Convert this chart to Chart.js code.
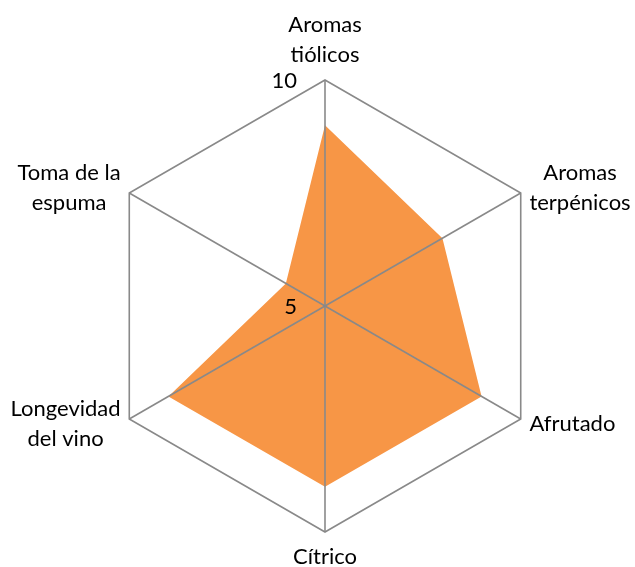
<!DOCTYPE html>
<html>
<head>
<meta charset="utf-8">
<script src="https://cdn.jsdelivr.net/npm/chart.js@4/dist/chart.umd.min.js"></script>
<style>
    html, body { margin: 0; padding: 0; background: #fff; }
    #wrap { width: 635px; height: 567px; }
</style>
</head>
<body>
<div id="wrap"><canvas id="radarChart"></canvas></div>
<script>
const categories = [
    ['Aromas', 'tiólicos'],
    ['Aromas', 'terpénicos'],
    ['Afrutado'],
    ['Cítrico'],
    ['Longevidad', 'del vino'],
    ['Toma de la', 'espuma']
];
const scores = [9, 8, 9, 9, 9, 6];
const tickValues = [5, 10];

const FONT = '22px Lato';
const LINE_H = 30;

/* tick labels sit left of the vertical axis, like the original */
const sideTicks = {
    id: 'sideTicks',
    afterDraw(chart) {
        const r = chart.scales.r;
        const ctx = chart.ctx;
        ctx.save();
        ctx.font = FONT;
        ctx.fillStyle = '#000';
        ctx.textAlign = 'right';
        ctx.textBaseline = 'middle';
        tickValues.forEach(v => {
            const d = r.getDistanceFromCenterForValue(v);
            ctx.fillText(String(v), r.xCenter - 28, r.yCenter - d + 1);
        });
        ctx.restore();
    }
};

/* category labels: centred lines, block placed just outside each vertex */
const outerLabels = {
    id: 'outerLabels',
    afterDraw(chart) {
        const r = chart.scales.r;
        const ctx = chart.ctx;
        ctx.save();
        ctx.font = FONT;
        ctx.fillStyle = '#000';
        ctx.textAlign = 'center';
        ctx.textBaseline = 'middle';
        categories.forEach((lines, i) => {
            const p = r.getPointPosition(i, r.drawingArea + 10);
            const w = Math.max(...lines.map(t => ctx.measureText(t).width));
            const h = lines.length * LINE_H;
            const dx = p.x - r.xCenter;
            let cx = p.x, top = p.y - h / 2;
            if (Math.abs(dx) < 1) {
                top = p.y < r.yCenter ? p.y - h : p.y;
            } else if (dx > 0) {
                cx = p.x + w / 2;
            } else {
                cx = p.x - w / 2;
            }
            lines.forEach((t, k) => ctx.fillText(t, cx, top + LINE_H * (k + 0.5)));
        });
        ctx.restore();
    }
};

new Chart(document.getElementById('radarChart'), {
    type: 'radar',
    data: {
        labels: categories.map(c => c.join(' ')),
        datasets: [{
            data: scores,
            backgroundColor: '#F79646',
            borderWidth: 0,
            pointRadius: 0,
            fill: true
        }]
    },
    options: {
        responsive: true,
        maintainAspectRatio: false,
        animation: false,
        layout: { padding: { top: 80, bottom: 35, left: 99, right: 84 } },
        plugins: {
            legend: { display: false },
            tooltip: { enabled: false }
        },
        scales: {
            r: {
                min: 5,
                max: 10,
                ticks: { display: false, stepSize: 5 },
                grid: { color: '#898989', lineWidth: 1.6, z: 1 },
                angleLines: { color: '#898989', lineWidth: 1.6 },
                pointLabels: { display: false }
            }
        }
    },
    plugins: [sideTicks, outerLabels]
});
</script>
</body>
</html>
